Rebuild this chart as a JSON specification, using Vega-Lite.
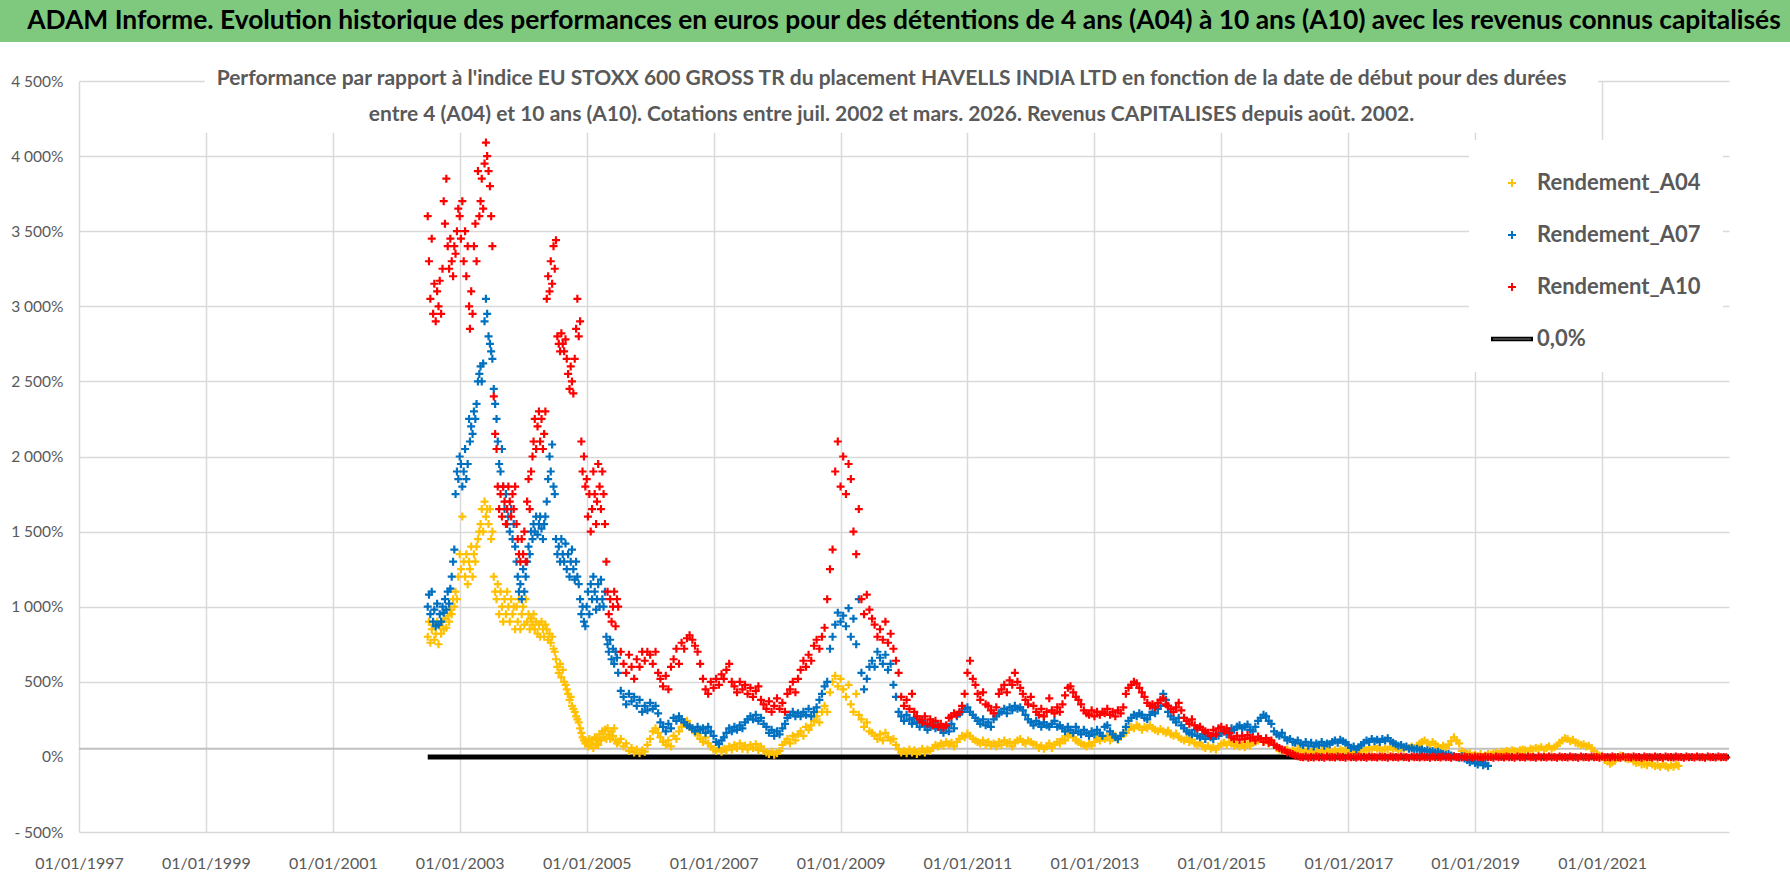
{
"$schema": "https://vega.github.io/schema/vega-lite/v6.json",
"background": "white",
"padding": 0,
"columns": 1,
"spacing": 26,
"config": {"view": {"stroke": null}, "font": "Lato"},
"datasets": {"pts": [
{"d":"2002-07-01","A04":800,"A07":1000,"A10":3600},
{"d":"2002-07-08","A04":900,"A07":1080,"A10":3300},
{"d":"2002-07-16","A04":760,"A07":950,"A10":3050},
{"d":"2002-07-24","A04":850,"A07":1100,"A10":3450},
{"d":"2002-08-01","A04":880,"A07":900,"A10":2950},
{"d":"2002-08-08","A04":780,"A07":980,"A10":3150},
{"d":"2002-08-16","A04":820,"A07":870,"A10":2900},
{"d":"2002-08-24","A04":900,"A07":1020,"A10":3100},
{"d":"2002-09-01","A04":750,"A07":880,"A10":3000},
{"d":"2002-09-08","A04":870,"A07":950,"A10":3170},
{"d":"2002-09-16","A04":820,"A07":900,"A10":2950},
{"d":"2002-09-24","A04":900,"A07":1000,"A10":3250},
{"d":"2002-10-01","A04":850,"A07":960,"A10":3700},
{"d":"2002-10-08","A04":920,"A07":1050,"A10":3550},
{"d":"2002-10-16","A04":860,"A07":980,"A10":3850},
{"d":"2002-10-24","A04":940,"A07":1100,"A10":3400},
{"d":"2002-11-01","A04":900,"A07":1020,"A10":3250},
{"d":"2002-11-08","A04":980,"A07":1120,"A10":3450},
{"d":"2002-11-16","A04":950,"A07":1200,"A10":3300},
{"d":"2002-11-24","A04":1050,"A07":1300,"A10":3200},
{"d":"2002-12-01","A04":1000,"A07":1380,"A10":3400},
{"d":"2002-12-08","A04":1100,"A07":1750,"A10":3350},
{"d":"2002-12-16","A04":1050,"A07":1900,"A10":3500},
{"d":"2002-12-24","A04":1200,"A07":1850,"A10":3650},
{"d":"2003-01-01","A04":1350,"A07":2000,"A10":3600},
{"d":"2003-01-08","A04":1250,"A07":1950,"A10":3450},
{"d":"2003-01-16","A04":1600,"A07":1800,"A10":3700},
{"d":"2003-01-24","A04":1300,"A07":1900,"A10":3300},
{"d":"2003-02-01","A04":1200,"A07":2050,"A10":3500},
{"d":"2003-02-08","A04":1350,"A07":1850,"A10":3200},
{"d":"2003-02-16","A04":1150,"A07":1950,"A10":3400},
{"d":"2003-02-24","A04":1300,"A07":2250,"A10":3000},
{"d":"2003-03-01","A04":1250,"A07":2100,"A10":2850},
{"d":"2003-03-08","A04":1400,"A07":2200,"A10":3100},
{"d":"2003-03-16","A04":1200,"A07":2150,"A10":2950},
{"d":"2003-03-24","A04":1350,"A07":2300,"A10":3400},
{"d":"2003-04-01","A04":1300,"A07":2250,"A10":3550},
{"d":"2003-04-08","A04":1400,"A07":2350,"A10":3300},
{"d":"2003-04-16","A04":1450,"A07":2500,"A10":3900},
{"d":"2003-04-24","A04":1500,"A07":2550,"A10":3600},
{"d":"2003-05-01","A04":1550,"A07":2600,"A10":3700},
{"d":"2003-05-08","A04":1650,"A07":2500,"A10":3850},
{"d":"2003-05-16","A04":1500,"A07":2620,"A10":3650},
{"d":"2003-05-24","A04":1700,"A07":2900,"A10":3950},
{"d":"2003-06-01","A04":1600,"A07":3050,"A10":4090},
{"d":"2003-06-08","A04":1650,"A07":2950,"A10":4000},
{"d":"2003-06-16","A04":1550,"A07":2800,"A10":3900},
{"d":"2003-06-24","A04":1650,"A07":2750,"A10":3800},
{"d":"2003-07-01","A04":1450,"A07":2700,"A10":3600},
{"d":"2003-07-08","A04":1500,"A07":2650,"A10":3400},
{"d":"2003-07-16","A04":1200,"A07":2450,"A10":2400},
{"d":"2003-07-24","A04":1100,"A07":2350,"A10":2150},
{"d":"2003-08-01","A04":1050,"A07":2250,"A10":2050},
{"d":"2003-08-08","A04":1150,"A07":2100,"A10":1800},
{"d":"2003-08-16","A04":950,"A07":1950,"A10":1650},
{"d":"2003-08-24","A04":1100,"A07":1900,"A10":1750},
{"d":"2003-09-01","A04":1000,"A07":2050,"A10":1600},
{"d":"2003-09-08","A04":900,"A07":1800,"A10":1800},
{"d":"2003-09-16","A04":1050,"A07":1650,"A10":1700},
{"d":"2003-09-24","A04":950,"A07":1750,"A10":1550},
{"d":"2003-10-01","A04":1100,"A07":1550,"A10":1650},
{"d":"2003-10-08","A04":1000,"A07":1600,"A10":1800},
{"d":"2003-10-16","A04":900,"A07":1500,"A10":1700},
{"d":"2003-10-24","A04":1050,"A07":1650,"A10":1600},
{"d":"2003-11-01","A04":950,"A07":1450,"A10":1750},
{"d":"2003-11-08","A04":1000,"A07":1550,"A10":1650},
{"d":"2003-11-16","A04":850,"A07":1400,"A10":1800},
{"d":"2003-11-24","A04":1000,"A07":1300,"A10":1550},
{"d":"2003-12-01","A04":900,"A07":1200,"A10":1450},
{"d":"2003-12-08","A04":1050,"A07":1100,"A10":1350},
{"d":"2003-12-16","A04":850,"A07":1150,"A10":1300},
{"d":"2003-12-24","A04":950,"A07":1050,"A10":1450},
{"d":"2004-01-01","A04":1000,"A07":1250,"A10":1350},
{"d":"2004-01-08","A04":880,"A07":1100,"A10":1500},
{"d":"2004-01-16","A04":1050,"A07":1200,"A10":1300},
{"d":"2004-01-24","A04":900,"A07":1300,"A10":1700},
{"d":"2004-02-01","A04":950,"A07":1400,"A10":1850},
{"d":"2004-02-08","A04":850,"A07":1350,"A10":1650},
{"d":"2004-02-16","A04":920,"A07":1500,"A10":1900},
{"d":"2004-02-24","A04":880,"A07":1450,"A10":2000},
{"d":"2004-03-01","A04":950,"A07":1550,"A10":2100},
{"d":"2004-03-08","A04":850,"A07":1500,"A10":2250},
{"d":"2004-03-16","A04":900,"A07":1600,"A10":2050},
{"d":"2004-03-24","A04":820,"A07":1480,"A10":2200},
{"d":"2004-04-01","A04":880,"A07":1550,"A10":2300},
{"d":"2004-04-08","A04":800,"A07":1600,"A10":2100},
{"d":"2004-04-16","A04":900,"A07":1520,"A10":2250},
{"d":"2004-04-24","A04":850,"A07":1450,"A10":2050},
{"d":"2004-05-01","A04":800,"A07":1550,"A10":2150},
{"d":"2004-05-08","A04":880,"A07":1600,"A10":2300},
{"d":"2004-05-16","A04":850,"A07":1700,"A10":3050},
{"d":"2004-05-24","A04":780,"A07":1850,"A10":3200},
{"d":"2004-06-01","A04":820,"A07":2000,"A10":3100},
{"d":"2004-06-08","A04":760,"A07":1900,"A10":3300},
{"d":"2004-06-16","A04":800,"A07":2080,"A10":3150},
{"d":"2004-06-24","A04":720,"A07":1800,"A10":3400},
{"d":"2004-07-01","A04":700,"A07":1750,"A10":3250},
{"d":"2004-07-08","A04":650,"A07":1450,"A10":3440},
{"d":"2004-07-16","A04":600,"A07":1350,"A10":2800},
{"d":"2004-07-24","A04":560,"A07":1400,"A10":2750},
{"d":"2004-08-01","A04":620,"A07":1300,"A10":2700},
{"d":"2004-08-08","A04":530,"A07":1450,"A10":2820},
{"d":"2004-08-16","A04":580,"A07":1350,"A10":2750},
{"d":"2004-08-24","A04":500,"A07":1300,"A10":2700},
{"d":"2004-09-01","A04":480,"A07":1420,"A10":2780},
{"d":"2004-09-08","A04":450,"A07":1250,"A10":2650},
{"d":"2004-09-16","A04":420,"A07":1350,"A10":2550},
{"d":"2004-09-24","A04":380,"A07":1200,"A10":2450},
{"d":"2004-10-01","A04":400,"A07":1300,"A10":2600},
{"d":"2004-10-08","A04":340,"A07":1380,"A10":2500},
{"d":"2004-10-16","A04":320,"A07":1250,"A10":2420},
{"d":"2004-10-24","A04":300,"A07":1180,"A10":2650},
{"d":"2004-11-01","A04":270,"A07":1300,"A10":2850},
{"d":"2004-11-08","A04":250,"A07":1200,"A10":3050},
{"d":"2004-11-16","A04":230,"A07":1150,"A10":2800},
{"d":"2004-11-24","A04":190,"A07":1050,"A10":2900},
{"d":"2004-12-01","A04":160,"A07":950,"A10":2100},
{"d":"2004-12-08","A04":130,"A07":1000,"A10":1900},
{"d":"2004-12-16","A04":110,"A07":900,"A10":2000},
{"d":"2004-12-24","A04":90,"A07":870,"A10":1800},
{"d":"2005-01-01","A04":100,"A07":1000,"A10":1850},
{"d":"2005-01-08","A04":70,"A07":1100,"A10":1600},
{"d":"2005-01-16","A04":120,"A07":950,"A10":1750},
{"d":"2005-01-24","A04":80,"A07":1150,"A10":1500},
{"d":"2005-02-01","A04":110,"A07":1050,"A10":1650},
{"d":"2005-02-08","A04":60,"A07":1200,"A10":1900},
{"d":"2005-02-16","A04":130,"A07":1100,"A10":1750},
{"d":"2005-02-24","A04":90,"A07":980,"A10":1550},
{"d":"2005-03-01","A04":120,"A07":1050,"A10":1700},
{"d":"2005-03-08","A04":80,"A07":1150,"A10":1950},
{"d":"2005-03-16","A04":150,"A07":1000,"A10":1800},
{"d":"2005-03-24","A04":110,"A07":1180,"A10":1650},
{"d":"2005-04-01","A04":170,"A07":1050,"A10":1900},
{"d":"2005-04-08","A04":130,"A07":1000,"A10":1750},
{"d":"2005-04-16","A04":180,"A07":1100,"A10":1550},
{"d":"2005-04-24","A04":120,"A07":800,"A10":1300},
{"d":"2005-05-01","A04":190,"A07":750,"A10":1100},
{"d":"2005-05-08","A04":150,"A07":700,"A10":950},
{"d":"2005-05-16","A04":120,"A07":780,"A10":1050},
{"d":"2005-05-24","A04":170,"A07":650,"A10":900},
{"d":"2005-06-01","A04":140,"A07":720,"A10":1000},
{"d":"2005-06-08","A04":190,"A07":620,"A10":1100},
{"d":"2005-06-16","A04":110,"A07":700,"A10":870},
{"d":"2005-06-24","A04":90,"A07":660,"A10":1050},
{"d":"2005-07-01","A04":100,"A07":560,"A10":1000},
{"d":"2005-07-16","A04":120,"A07":440,"A10":700},
{"d":"2005-08-01","A04":70,"A07":400,"A10":620},
{"d":"2005-08-16","A04":90,"A07":350,"A10":560},
{"d":"2005-09-01","A04":40,"A07":420,"A10":680},
{"d":"2005-09-16","A04":60,"A07":370,"A10":600},
{"d":"2005-10-01","A04":30,"A07":400,"A10":520},
{"d":"2005-10-16","A04":50,"A07":340,"A10":650},
{"d":"2005-11-01","A04":25,"A07":380,"A10":600},
{"d":"2005-11-16","A04":45,"A07":300,"A10":700},
{"d":"2005-12-01","A04":35,"A07":340,"A10":640},
{"d":"2005-12-16","A04":80,"A07":310,"A10":700},
{"d":"2006-01-01","A04":120,"A07":360,"A10":680},
{"d":"2006-01-16","A04":170,"A07":320,"A10":620},
{"d":"2006-02-01","A04":190,"A07":340,"A10":700},
{"d":"2006-02-16","A04":160,"A07":290,"A10":560},
{"d":"2006-03-01","A04":130,"A07":230,"A10":520},
{"d":"2006-03-16","A04":100,"A07":200,"A10":470},
{"d":"2006-04-01","A04":80,"A07":170,"A10":540},
{"d":"2006-04-16","A04":110,"A07":220,"A10":450},
{"d":"2006-05-01","A04":70,"A07":190,"A10":600},
{"d":"2006-05-16","A04":140,"A07":260,"A10":650},
{"d":"2006-06-01","A04":120,"A07":240,"A10":720},
{"d":"2006-06-16","A04":170,"A07":270,"A10":620},
{"d":"2006-07-01","A04":200,"A07":250,"A10":760},
{"d":"2006-07-16","A04":220,"A07":230,"A10":720},
{"d":"2006-08-01","A04":240,"A07":210,"A10":790},
{"d":"2006-08-16","A04":210,"A07":200,"A10":810},
{"d":"2006-09-01","A04":180,"A07":190,"A10":780},
{"d":"2006-09-16","A04":160,"A07":170,"A10":740},
{"d":"2006-10-01","A04":150,"A07":200,"A10":700},
{"d":"2006-10-16","A04":120,"A07":180,"A10":620},
{"d":"2006-11-01","A04":100,"A07":190,"A10":520},
{"d":"2006-11-16","A04":130,"A07":160,"A10":450},
{"d":"2006-12-01","A04":90,"A07":200,"A10":420},
{"d":"2006-12-16","A04":70,"A07":170,"A10":500},
{"d":"2007-01-01","A04":50,"A07":140,"A10":460},
{"d":"2007-01-16","A04":40,"A07":100,"A10":520},
{"d":"2007-02-01","A04":60,"A07":85,"A10":480},
{"d":"2007-02-16","A04":35,"A07":110,"A10":550},
{"d":"2007-03-01","A04":55,"A07":130,"A10":520},
{"d":"2007-03-16","A04":45,"A07":160,"A10":580},
{"d":"2007-04-01","A04":70,"A07":190,"A10":620},
{"d":"2007-04-16","A04":50,"A07":170,"A10":500},
{"d":"2007-05-01","A04":80,"A07":200,"A10":470},
{"d":"2007-05-16","A04":60,"A07":180,"A10":430},
{"d":"2007-06-01","A04":90,"A07":210,"A10":500},
{"d":"2007-06-16","A04":55,"A07":190,"A10":450},
{"d":"2007-07-01","A04":75,"A07":230,"A10":480},
{"d":"2007-07-16","A04":50,"A07":250,"A10":420},
{"d":"2007-08-01","A04":80,"A07":270,"A10":460},
{"d":"2007-08-16","A04":60,"A07":250,"A10":400},
{"d":"2007-09-01","A04":85,"A07":280,"A10":440},
{"d":"2007-09-16","A04":45,"A07":240,"A10":470},
{"d":"2007-10-01","A04":70,"A07":260,"A10":380},
{"d":"2007-10-16","A04":40,"A07":220,"A10":350},
{"d":"2007-11-01","A04":30,"A07":200,"A10":320},
{"d":"2007-11-16","A04":20,"A07":160,"A10":370},
{"d":"2007-12-01","A04":35,"A07":180,"A10":300},
{"d":"2007-12-16","A04":15,"A07":140,"A10":340},
{"d":"2008-01-01","A04":25,"A07":170,"A10":390},
{"d":"2008-01-16","A04":40,"A07":150,"A10":320},
{"d":"2008-02-01","A04":80,"A07":190,"A10":360},
{"d":"2008-02-16","A04":100,"A07":220,"A10":300},
{"d":"2008-03-01","A04":120,"A07":260,"A10":420},
{"d":"2008-03-16","A04":90,"A07":280,"A10":450},
{"d":"2008-04-01","A04":140,"A07":300,"A10":500},
{"d":"2008-04-16","A04":110,"A07":270,"A10":430},
{"d":"2008-05-01","A04":150,"A07":290,"A10":520},
{"d":"2008-05-16","A04":170,"A07":270,"A10":580},
{"d":"2008-06-01","A04":140,"A07":300,"A10":640},
{"d":"2008-06-16","A04":200,"A07":280,"A10":600},
{"d":"2008-07-01","A04":180,"A07":320,"A10":680},
{"d":"2008-07-16","A04":210,"A07":270,"A10":640},
{"d":"2008-08-01","A04":240,"A07":300,"A10":740},
{"d":"2008-08-16","A04":270,"A07":330,"A10":780},
{"d":"2008-09-01","A04":230,"A07":380,"A10":720},
{"d":"2008-09-16","A04":300,"A07":420,"A10":800},
{"d":"2008-10-01","A04":340,"A07":470,"A10":860},
{"d":"2008-10-16","A04":300,"A07":500,"A10":1050},
{"d":"2008-11-01","A04":430,"A07":720,"A10":1250},
{"d":"2008-11-16","A04":500,"A07":800,"A10":1380},
{"d":"2008-12-01","A04":540,"A07":880,"A10":1900},
{"d":"2008-12-16","A04":470,"A07":960,"A10":2100},
{"d":"2009-01-01","A04":520,"A07":900,"A10":1800},
{"d":"2009-01-16","A04":450,"A07":940,"A10":2000},
{"d":"2009-02-01","A04":400,"A07":870,"A10":1750},
{"d":"2009-02-16","A04":480,"A07":990,"A10":1950},
{"d":"2009-03-01","A04":350,"A07":800,"A10":1850},
{"d":"2009-03-16","A04":300,"A07":920,"A10":1500},
{"d":"2009-04-01","A04":420,"A07":750,"A10":1350},
{"d":"2009-04-16","A04":280,"A07":1050,"A10":1650},
{"d":"2009-05-01","A04":250,"A07":560,"A10":1050},
{"d":"2009-05-16","A04":200,"A07":450,"A10":950},
{"d":"2009-06-01","A04":230,"A07":520,"A10":1080},
{"d":"2009-06-16","A04":170,"A07":600,"A10":980},
{"d":"2009-07-01","A04":160,"A07":640,"A10":920},
{"d":"2009-07-16","A04":140,"A07":600,"A10":880},
{"d":"2009-08-01","A04":120,"A07":700,"A10":800},
{"d":"2009-08-16","A04":150,"A07":660,"A10":850},
{"d":"2009-09-01","A04":110,"A07":620,"A10":780},
{"d":"2009-09-16","A04":160,"A07":680,"A10":900},
{"d":"2009-10-01","A04":130,"A07":580,"A10":760},
{"d":"2009-10-16","A04":110,"A07":620,"A10":820},
{"d":"2009-11-01","A04":120,"A07":480,"A10":720},
{"d":"2009-11-16","A04":80,"A07":400,"A10":640},
{"d":"2009-12-01","A04":50,"A07":300,"A10":560},
{"d":"2009-12-16","A04":30,"A07":270,"A10":400},
{"d":"2010-01-01","A04":40,"A07":240,"A10":340},
{"d":"2010-01-16","A04":25,"A07":280,"A10":380},
{"d":"2010-02-01","A04":50,"A07":250,"A10":320},
{"d":"2010-02-16","A04":30,"A07":220,"A10":420},
{"d":"2010-03-01","A04":45,"A07":260,"A10":300},
{"d":"2010-03-16","A04":20,"A07":230,"A10":270},
{"d":"2010-04-01","A04":35,"A07":200,"A10":250},
{"d":"2010-04-16","A04":55,"A07":240,"A10":230},
{"d":"2010-05-01","A04":30,"A07":210,"A10":270},
{"d":"2010-05-16","A04":50,"A07":180,"A10":220},
{"d":"2010-06-01","A04":40,"A07":200,"A10":250},
{"d":"2010-06-16","A04":60,"A07":230,"A10":210},
{"d":"2010-07-01","A04":80,"A07":190,"A10":240},
{"d":"2010-07-16","A04":70,"A07":210,"A10":200},
{"d":"2010-08-01","A04":90,"A07":180,"A10":220},
{"d":"2010-08-16","A04":75,"A07":160,"A10":195},
{"d":"2010-09-01","A04":100,"A07":200,"A10":210},
{"d":"2010-09-16","A04":85,"A07":170,"A10":260},
{"d":"2010-10-01","A04":95,"A07":220,"A10":270},
{"d":"2010-10-16","A04":70,"A07":190,"A10":290},
{"d":"2010-11-01","A04":100,"A07":270,"A10":280},
{"d":"2010-11-16","A04":120,"A07":290,"A10":300},
{"d":"2010-12-01","A04":140,"A07":300,"A10":340},
{"d":"2010-12-16","A04":130,"A07":320,"A10":420},
{"d":"2011-01-01","A04":155,"A07":330,"A10":560},
{"d":"2011-01-16","A04":140,"A07":300,"A10":640},
{"d":"2011-02-01","A04":120,"A07":280,"A10":520},
{"d":"2011-02-16","A04":110,"A07":260,"A10":480},
{"d":"2011-03-01","A04":100,"A07":240,"A10":420},
{"d":"2011-03-16","A04":90,"A07":220,"A10":380},
{"d":"2011-04-01","A04":110,"A07":250,"A10":430},
{"d":"2011-04-16","A04":80,"A07":210,"A10":350},
{"d":"2011-05-01","A04":100,"A07":230,"A10":340},
{"d":"2011-05-16","A04":75,"A07":200,"A10":310},
{"d":"2011-06-01","A04":90,"A07":250,"A10":290},
{"d":"2011-06-16","A04":70,"A07":270,"A10":330},
{"d":"2011-07-01","A04":100,"A07":290,"A10":420},
{"d":"2011-07-16","A04":80,"A07":300,"A10":450},
{"d":"2011-08-01","A04":110,"A07":320,"A10":480},
{"d":"2011-08-16","A04":90,"A07":290,"A10":430},
{"d":"2011-09-01","A04":100,"A07":330,"A10":510},
{"d":"2011-09-16","A04":70,"A07":310,"A10":480},
{"d":"2011-10-01","A04":95,"A07":340,"A10":560},
{"d":"2011-10-16","A04":110,"A07":320,"A10":500},
{"d":"2011-11-01","A04":120,"A07":330,"A10":460},
{"d":"2011-11-16","A04":100,"A07":310,"A10":420},
{"d":"2011-12-01","A04":90,"A07":280,"A10":380},
{"d":"2011-12-16","A04":110,"A07":250,"A10":350},
{"d":"2012-01-01","A04":100,"A07":230,"A10":400},
{"d":"2012-01-16","A04":85,"A07":210,"A10":340},
{"d":"2012-02-01","A04":80,"A07":240,"A10":300},
{"d":"2012-02-16","A04":60,"A07":220,"A10":280},
{"d":"2012-03-01","A04":75,"A07":200,"A10":320},
{"d":"2012-03-16","A04":55,"A07":230,"A10":270},
{"d":"2012-04-01","A04":70,"A07":210,"A10":300},
{"d":"2012-04-16","A04":90,"A07":200,"A10":390},
{"d":"2012-05-01","A04":60,"A07":220,"A10":310},
{"d":"2012-05-16","A04":80,"A07":240,"A10":290},
{"d":"2012-06-01","A04":100,"A07":200,"A10":330},
{"d":"2012-06-16","A04":90,"A07":210,"A10":300},
{"d":"2012-07-01","A04":120,"A07":190,"A10":350},
{"d":"2012-07-16","A04":110,"A07":170,"A10":410},
{"d":"2012-08-01","A04":140,"A07":200,"A10":460},
{"d":"2012-08-16","A04":150,"A07":180,"A10":470},
{"d":"2012-09-01","A04":130,"A07":160,"A10":430},
{"d":"2012-09-16","A04":110,"A07":200,"A10":400},
{"d":"2012-10-01","A04":100,"A07":170,"A10":380},
{"d":"2012-10-16","A04":90,"A07":150,"A10":350},
{"d":"2012-11-01","A04":80,"A07":180,"A10":310},
{"d":"2012-11-16","A04":70,"A07":160,"A10":290},
{"d":"2012-12-01","A04":90,"A07":140,"A10":280},
{"d":"2012-12-16","A04":75,"A07":170,"A10":310},
{"d":"2013-01-01","A04":100,"A07":150,"A10":270},
{"d":"2013-01-16","A04":120,"A07":180,"A10":300},
{"d":"2013-02-01","A04":110,"A07":160,"A10":280},
{"d":"2013-02-16","A04":130,"A07":140,"A10":300},
{"d":"2013-03-01","A04":120,"A07":200,"A10":290},
{"d":"2013-03-16","A04":140,"A07":210,"A10":320},
{"d":"2013-04-01","A04":110,"A07":170,"A10":280},
{"d":"2013-04-16","A04":125,"A07":150,"A10":300},
{"d":"2013-05-01","A04":140,"A07":130,"A10":270},
{"d":"2013-05-16","A04":115,"A07":120,"A10":310},
{"d":"2013-06-01","A04":135,"A07":140,"A10":290},
{"d":"2013-06-16","A04":150,"A07":160,"A10":330},
{"d":"2013-07-01","A04":160,"A07":200,"A10":420},
{"d":"2013-07-16","A04":180,"A07":240,"A10":460},
{"d":"2013-08-01","A04":200,"A07":260,"A10":480},
{"d":"2013-08-16","A04":190,"A07":280,"A10":500},
{"d":"2013-09-01","A04":210,"A07":270,"A10":490},
{"d":"2013-09-16","A04":200,"A07":290,"A10":460},
{"d":"2013-10-01","A04":180,"A07":280,"A10":430},
{"d":"2013-10-16","A04":200,"A07":260,"A10":400},
{"d":"2013-11-01","A04":190,"A07":250,"A10":360},
{"d":"2013-11-16","A04":210,"A07":280,"A10":340},
{"d":"2013-12-01","A04":190,"A07":300,"A10":350},
{"d":"2013-12-16","A04":180,"A07":290,"A10":330},
{"d":"2014-01-01","A04":170,"A07":320,"A10":360},
{"d":"2014-01-16","A04":185,"A07":340,"A10":380},
{"d":"2014-02-01","A04":170,"A07":420,"A10":390},
{"d":"2014-02-16","A04":160,"A07":380,"A10":350},
{"d":"2014-03-01","A04":175,"A07":300,"A10":340},
{"d":"2014-03-16","A04":150,"A07":270,"A10":320},
{"d":"2014-04-01","A04":140,"A07":250,"A10":300},
{"d":"2014-04-16","A04":155,"A07":230,"A10":330},
{"d":"2014-05-01","A04":130,"A07":260,"A10":360},
{"d":"2014-05-16","A04":120,"A07":210,"A10":310},
{"d":"2014-06-01","A04":110,"A07":190,"A10":260},
{"d":"2014-06-16","A04":125,"A07":170,"A10":240},
{"d":"2014-07-01","A04":100,"A07":160,"A10":220},
{"d":"2014-07-16","A04":115,"A07":150,"A10":250},
{"d":"2014-08-01","A04":90,"A07":180,"A10":210},
{"d":"2014-08-16","A04":80,"A07":140,"A10":190},
{"d":"2014-09-01","A04":95,"A07":130,"A10":200},
{"d":"2014-09-16","A04":70,"A07":150,"A10":180},
{"d":"2014-10-01","A04":60,"A07":120,"A10":170},
{"d":"2014-10-16","A04":75,"A07":140,"A10":160},
{"d":"2014-11-01","A04":55,"A07":130,"A10":140},
{"d":"2014-11-16","A04":65,"A07":120,"A10":180},
{"d":"2014-12-01","A04":50,"A07":150,"A10":150},
{"d":"2014-12-16","A04":70,"A07":140,"A10":190},
{"d":"2015-01-01","A04":85,"A07":160,"A10":200},
{"d":"2015-01-16","A04":95,"A07":175,"A10":170},
{"d":"2015-02-01","A04":80,"A07":150,"A10":190},
{"d":"2015-02-16","A04":100,"A07":165,"A10":160},
{"d":"2015-03-01","A04":90,"A07":190,"A10":130},
{"d":"2015-03-16","A04":75,"A07":180,"A10":120},
{"d":"2015-04-01","A04":85,"A07":200,"A10":140},
{"d":"2015-04-16","A04":70,"A07":210,"A10":115},
{"d":"2015-05-01","A04":80,"A07":190,"A10":140},
{"d":"2015-05-16","A04":65,"A07":200,"A10":120},
{"d":"2015-06-01","A04":90,"A07":215,"A10":145},
{"d":"2015-06-16","A04":75,"A07":180,"A10":125},
{"d":"2015-07-01","A04":95,"A07":170,"A10":130},
{"d":"2015-07-16","A04":100,"A07":200,"A10":110},
{"d":"2015-08-01","A04":110,"A07":240,"A10":135},
{"d":"2015-08-16","A04":120,"A07":260,"A10":120},
{"d":"2015-09-01","A04":105,"A07":280,"A10":100},
{"d":"2015-09-16","A04":115,"A07":270,"A10":125},
{"d":"2015-10-01","A04":90,"A07":240,"A10":95},
{"d":"2015-10-16","A04":100,"A07":220,"A10":110},
{"d":"2015-11-01","A04":80,"A07":170,"A10":80},
{"d":"2015-11-16","A04":60,"A07":150,"A10":70},
{"d":"2015-12-01","A04":50,"A07":140,"A10":60},
{"d":"2015-12-16","A04":45,"A07":160,"A10":50},
{"d":"2016-01-01","A04":40,"A07":130,"A10":45},
{"d":"2016-01-16","A04":50,"A07":110,"A10":30},
{"d":"2016-02-01","A04":35,"A07":120,"A10":25},
{"d":"2016-02-16","A04":45,"A07":100,"A10":20},
{"d":"2016-03-01","A04":30,"A07":95,"A10":10},
{"d":"2016-03-16","A04":55,"A07":110,"A10":5},
{"d":"2016-04-01","A04":40,"A07":90,"A10":0},
{"d":"2016-04-16","A04":50,"A07":80,"A10":-3},
{"d":"2016-05-01","A04":35,"A07":100,"A10":2},
{"d":"2016-05-16","A04":45,"A07":75,"A10":-5},
{"d":"2016-06-01","A04":30,"A07":95,"A10":0},
{"d":"2016-06-16","A04":50,"A07":70,"A10":-4},
{"d":"2016-07-01","A04":40,"A07":90,"A10":3},
{"d":"2016-07-16","A04":30,"A07":80,"A10":-2},
{"d":"2016-08-01","A04":45,"A07":100,"A10":0},
{"d":"2016-08-16","A04":35,"A07":75,"A10":-5},
{"d":"2016-09-01","A04":50,"A07":90,"A10":2},
{"d":"2016-09-16","A04":40,"A07":85,"A10":-3},
{"d":"2016-10-01","A04":30,"A07":100,"A10":0},
{"d":"2016-10-16","A04":45,"A07":110,"A10":-4},
{"d":"2016-11-01","A04":35,"A07":95,"A10":2},
{"d":"2016-11-16","A04":50,"A07":115,"A10":-2},
{"d":"2016-12-01","A04":40,"A07":105,"A10":0},
{"d":"2016-12-16","A04":45,"A07":95,"A10":-5},
{"d":"2017-01-01","A04":30,"A07":80,"A10":3},
{"d":"2017-01-16","A04":25,"A07":60,"A10":-2},
{"d":"2017-02-01","A04":35,"A07":70,"A10":0},
{"d":"2017-02-16","A04":20,"A07":50,"A10":-4},
{"d":"2017-03-01","A04":30,"A07":65,"A10":2},
{"d":"2017-03-16","A04":40,"A07":80,"A10":-3},
{"d":"2017-04-01","A04":50,"A07":95,"A10":0},
{"d":"2017-04-16","A04":45,"A07":110,"A10":-5},
{"d":"2017-05-01","A04":60,"A07":100,"A10":2},
{"d":"2017-05-16","A04":50,"A07":120,"A10":-2},
{"d":"2017-06-01","A04":65,"A07":105,"A10":0},
{"d":"2017-06-16","A04":55,"A07":115,"A10":-4},
{"d":"2017-07-01","A04":60,"A07":100,"A10":3},
{"d":"2017-07-16","A04":45,"A07":120,"A10":-2},
{"d":"2017-08-01","A04":55,"A07":110,"A10":0},
{"d":"2017-08-16","A04":50,"A07":125,"A10":-5},
{"d":"2017-09-01","A04":65,"A07":105,"A10":2},
{"d":"2017-09-16","A04":55,"A07":95,"A10":-3},
{"d":"2017-10-01","A04":60,"A07":85,"A10":0},
{"d":"2017-10-16","A04":50,"A07":75,"A10":-4},
{"d":"2017-11-01","A04":60,"A07":80,"A10":2},
{"d":"2017-11-16","A04":55,"A07":65,"A10":-2},
{"d":"2017-12-01","A04":65,"A07":70,"A10":0},
{"d":"2017-12-16","A04":60,"A07":55,"A10":-5},
{"d":"2018-01-01","A04":70,"A07":60,"A10":3},
{"d":"2018-01-16","A04":60,"A07":50,"A10":-2},
{"d":"2018-02-01","A04":75,"A07":55,"A10":0},
{"d":"2018-02-16","A04":90,"A07":45,"A10":-4},
{"d":"2018-03-01","A04":100,"A07":50,"A10":2},
{"d":"2018-03-16","A04":110,"A07":40,"A10":-3},
{"d":"2018-04-01","A04":95,"A07":45,"A10":0},
{"d":"2018-04-16","A04":80,"A07":35,"A10":-5},
{"d":"2018-05-01","A04":100,"A07":40,"A10":2},
{"d":"2018-05-16","A04":85,"A07":30,"A10":-2},
{"d":"2018-06-01","A04":70,"A07":35,"A10":0},
{"d":"2018-06-16","A04":60,"A07":25,"A10":-4},
{"d":"2018-07-01","A04":75,"A07":20,"A10":3},
{"d":"2018-07-16","A04":65,"A07":15,"A10":-2},
{"d":"2018-08-01","A04":80,"A07":20,"A10":0},
{"d":"2018-08-16","A04":105,"A07":10,"A10":-5},
{"d":"2018-09-01","A04":130,"A07":5,"A10":2},
{"d":"2018-09-16","A04":110,"A07":0,"A10":-3},
{"d":"2018-10-01","A04":90,"A07":-5,"A10":0},
{"d":"2018-10-16","A04":40,"A07":5,"A10":-4},
{"d":"2018-11-01","A04":30,"A07":-10,"A10":2},
{"d":"2018-11-16","A04":20,"A07":-20,"A10":-2},
{"d":"2018-12-01","A04":25,"A07":-35,"A10":0},
{"d":"2018-12-16","A04":10,"A07":-25,"A10":-5},
{"d":"2019-01-01","A04":15,"A07":-40,"A10":3},
{"d":"2019-01-16","A04":5,"A07":-50,"A10":-2},
{"d":"2019-02-01","A04":20,"A07":-35,"A10":0},
{"d":"2019-02-16","A04":0,"A07":-55,"A10":-4},
{"d":"2019-03-01","A04":10,"A07":-45,"A10":2},
{"d":"2019-03-16","A04":20,"A07":-60,"A10":-3},
{"d":"2019-04-01","A04":15,"A07":null,"A10":0},
{"d":"2019-04-16","A04":25,"A07":null,"A10":-5},
{"d":"2019-05-01","A04":30,"A07":null,"A10":2},
{"d":"2019-05-16","A04":20,"A07":null,"A10":-2},
{"d":"2019-06-01","A04":35,"A07":null,"A10":0},
{"d":"2019-06-16","A04":30,"A07":null,"A10":-4},
{"d":"2019-07-01","A04":40,"A07":null,"A10":3},
{"d":"2019-07-16","A04":35,"A07":null,"A10":-2},
{"d":"2019-08-01","A04":45,"A07":null,"A10":0},
{"d":"2019-08-16","A04":40,"A07":null,"A10":-5},
{"d":"2019-09-01","A04":35,"A07":null,"A10":2},
{"d":"2019-09-16","A04":45,"A07":null,"A10":-3},
{"d":"2019-10-01","A04":50,"A07":null,"A10":0},
{"d":"2019-10-16","A04":45,"A07":null,"A10":-4},
{"d":"2019-11-01","A04":40,"A07":null,"A10":2},
{"d":"2019-11-16","A04":55,"A07":null,"A10":-2},
{"d":"2019-12-01","A04":50,"A07":null,"A10":0},
{"d":"2019-12-16","A04":60,"A07":null,"A10":-5},
{"d":"2020-01-01","A04":55,"A07":null,"A10":3},
{"d":"2020-01-16","A04":65,"A07":null,"A10":-2},
{"d":"2020-02-01","A04":50,"A07":null,"A10":0},
{"d":"2020-02-16","A04":60,"A07":null,"A10":-4},
{"d":"2020-03-01","A04":70,"A07":null,"A10":2},
{"d":"2020-03-16","A04":55,"A07":null,"A10":-3},
{"d":"2020-04-01","A04":65,"A07":null,"A10":0},
{"d":"2020-04-16","A04":75,"A07":null,"A10":-5},
{"d":"2020-05-01","A04":95,"A07":null,"A10":2},
{"d":"2020-05-16","A04":110,"A07":null,"A10":-2},
{"d":"2020-06-01","A04":125,"A07":null,"A10":0},
{"d":"2020-06-16","A04":120,"A07":null,"A10":-4},
{"d":"2020-07-01","A04":105,"A07":null,"A10":3},
{"d":"2020-07-16","A04":115,"A07":null,"A10":-2},
{"d":"2020-08-01","A04":95,"A07":null,"A10":0},
{"d":"2020-08-16","A04":90,"A07":null,"A10":-5},
{"d":"2020-09-01","A04":80,"A07":null,"A10":2},
{"d":"2020-09-16","A04":85,"A07":null,"A10":-3},
{"d":"2020-10-01","A04":70,"A07":null,"A10":0},
{"d":"2020-10-16","A04":75,"A07":null,"A10":-4},
{"d":"2020-11-01","A04":60,"A07":null,"A10":2},
{"d":"2020-11-16","A04":40,"A07":null,"A10":-2},
{"d":"2020-12-01","A04":20,"A07":null,"A10":0},
{"d":"2020-12-16","A04":10,"A07":null,"A10":-5},
{"d":"2021-01-01","A04":0,"A07":null,"A10":3},
{"d":"2021-01-16","A04":-20,"A07":null,"A10":-2},
{"d":"2021-02-01","A04":-30,"A07":null,"A10":0},
{"d":"2021-02-16","A04":-45,"A07":null,"A10":-4},
{"d":"2021-03-01","A04":-35,"A07":null,"A10":2},
{"d":"2021-03-16","A04":-25,"A07":null,"A10":-3},
{"d":"2021-04-01","A04":-5,"A07":null,"A10":0},
{"d":"2021-04-16","A04":10,"A07":null,"A10":-5},
{"d":"2021-05-01","A04":5,"A07":null,"A10":2},
{"d":"2021-05-16","A04":-10,"A07":null,"A10":-2},
{"d":"2021-06-01","A04":-15,"A07":null,"A10":0},
{"d":"2021-06-16","A04":-5,"A07":null,"A10":-4},
{"d":"2021-07-01","A04":-30,"A07":null,"A10":3},
{"d":"2021-07-16","A04":-40,"A07":null,"A10":-2},
{"d":"2021-08-01","A04":-35,"A07":null,"A10":0},
{"d":"2021-08-16","A04":-50,"A07":null,"A10":-5},
{"d":"2021-09-01","A04":-45,"A07":null,"A10":2},
{"d":"2021-09-16","A04":-55,"A07":null,"A10":-3},
{"d":"2021-10-01","A04":-40,"A07":null,"A10":0},
{"d":"2021-10-16","A04":-50,"A07":null,"A10":-4},
{"d":"2021-11-01","A04":-60,"A07":null,"A10":2},
{"d":"2021-11-16","A04":-55,"A07":null,"A10":-2},
{"d":"2021-12-01","A04":-65,"A07":null,"A10":0},
{"d":"2021-12-16","A04":-50,"A07":null,"A10":-5},
{"d":"2022-01-01","A04":-60,"A07":null,"A10":3},
{"d":"2022-01-16","A04":-70,"A07":null,"A10":-2},
{"d":"2022-02-01","A04":-55,"A07":null,"A10":0},
{"d":"2022-02-16","A04":-65,"A07":null,"A10":-4},
{"d":"2022-03-01","A04":-50,"A07":null,"A10":2},
{"d":"2022-03-16","A04":-60,"A07":null,"A10":-3},
{"d":"2022-04-01","A04":null,"A07":null,"A10":0},
{"d":"2022-04-16","A04":null,"A07":null,"A10":-5},
{"d":"2022-05-01","A04":null,"A07":null,"A10":2},
{"d":"2022-05-16","A04":null,"A07":null,"A10":-2},
{"d":"2022-06-01","A04":null,"A07":null,"A10":0},
{"d":"2022-06-16","A04":null,"A07":null,"A10":-4},
{"d":"2022-07-01","A04":null,"A07":null,"A10":3},
{"d":"2022-07-16","A04":null,"A07":null,"A10":-2},
{"d":"2022-08-01","A04":null,"A07":null,"A10":0},
{"d":"2022-08-16","A04":null,"A07":null,"A10":-5},
{"d":"2022-09-01","A04":null,"A07":null,"A10":2},
{"d":"2022-09-16","A04":null,"A07":null,"A10":-3},
{"d":"2022-10-01","A04":null,"A07":null,"A10":0},
{"d":"2022-10-16","A04":null,"A07":null,"A10":-4},
{"d":"2022-11-01","A04":null,"A07":null,"A10":2},
{"d":"2022-11-16","A04":null,"A07":null,"A10":-2},
{"d":"2022-12-01","A04":null,"A07":null,"A10":0},
{"d":"2022-12-16","A04":null,"A07":null,"A10":-3}
]},
"concat": [
{
  "width": 1790,
  "height": 42,
  "view": {"fill": "#7EC97E", "stroke": null},
  "data": {"values": [{"t": "ADAM Informe. Evolution historique des performances en euros pour des détentions de 4 ans (A04) à 10 ans (A10) avec les revenus connus capitalisés"}]},
  "mark": {"type": "text", "font": "Lato", "fontWeight": "bold", "fontSize": 26.4, "color": "#000000", "dx": 9, "baseline": "middle"},
  "encoding": {"text": {"field": "t", "type": "nominal"}}
},
{
  "width": 1729,
  "height": 751,
  "title": {
    "text": ["Performance par rapport à l'indice EU STOXX 600 GROSS TR  du placement HAVELLS INDIA LTD en fonction de la date de début pour des durées", "entre 4 (A04) et 10 ans (A10).  Cotations entre juil. 2002 et mars. 2026. Revenus CAPITALISES depuis août. 2002."],
    "anchor": "middle", "frame": "group", "dx": 27, "offset": -62, "baseline": "middle",
    "fontSize": 21, "font": "Lato", "fontWeight": "bold", "color": "#595959", "lineHeight": 36
  },
  "layer": [
    {
      "data": {"values": [{}]},
      "mark": {"type": "rect", "fill": "white", "stroke": null},
      "encoding": {
        "x": {"datum": {"year": 1998, "month": 12, "date": 26}, "type": "temporal"},
        "x2": {"datum": {"year": 2020, "month": 12, "date": 8}},
        "y": {"datum": 4530, "type": "quantitative"},
        "y2": {"datum": 4156}
      }
    },
    {
      "data": {"values": [{}]},
      "mark": {"type": "rule", "color": "#c0c0c0", "strokeWidth": 2},
      "encoding": {
        "x": {"datum": {"year": 1997, "month": 1, "date": 1}, "type": "temporal"},
        "x2": {"datum": {"year": 2023, "month": 1, "date": 1}},
        "y": {"datum": 55, "type": "quantitative"}
      }
    },
    {
      "data": {"values": [{"d": "2002-07-01", "v": 0}, {"d": "2023-01-01", "v": 0}]},
      "mark": {"type": "line", "color": "#000000", "strokeWidth": 5},
      "encoding": {
        "x": {"field": "d", "type": "temporal"},
        "y": {"field": "v", "type": "quantitative"}
      }
    },
    {
      "data": {"name": "pts"},
      "transform": [{"fold": ["A04", "A07", "A10"], "as": ["s", "v"]}],
      "mark": {"type": "point", "filled": false, "strokeWidth": 2.2, "size": 1600, "opacity": 1},
      "encoding": {
        "x": {
          "field": "d", "type": "temporal",
          "scale": {"domain": [{"year": 1997, "month": 1, "date": 1}, {"year": 2023, "month": 1, "date": 1}], "range": [79, 1729], "nice": false},
          "axis": {
            "title": null,
            "values": [{"year": 1997, "month": 1, "date": 1}, {"year": 1999, "month": 1, "date": 1}, {"year": 2001, "month": 1, "date": 1}, {"year": 2003, "month": 1, "date": 1}, {"year": 2005, "month": 1, "date": 1}, {"year": 2007, "month": 1, "date": 1}, {"year": 2009, "month": 1, "date": 1}, {"year": 2011, "month": 1, "date": 1}, {"year": 2013, "month": 1, "date": 1}, {"year": 2015, "month": 1, "date": 1}, {"year": 2017, "month": 1, "date": 1}, {"year": 2019, "month": 1, "date": 1}, {"year": 2021, "month": 1, "date": 1}],
            "format": "%d/%m/%Y",
            "labelFlush": false, "labelOverlap": false, "labelBound": false,
            "grid": true, "gridColor": "#d9d9d9", "gridWidth": 1.5,
            "domain": false, "ticks": false, "labelPadding": 23,
            "labelFont": "Lato", "labelFontSize": 16, "labelColor": "#595959"
          }
        },
        "y": {
          "field": "v", "type": "quantitative",
          "scale": {"domain": [-500, 4500], "nice": false, "zero": false},
          "axis": {
            "title": null, "offset": -79,
            "values": [-500, 0, 500, 1000, 1500, 2000, 2500, 3000, 3500, 4000, 4500],
            "labelExpr": "datum.value < 0 ? '- ' + format(-datum.value, ',d') + '%' : replace(format(datum.value, ',d'), ',', ' ') + '%'",
            "grid": true, "gridColor": {"condition": {"test": "datum.value === 0", "value": "transparent"}, "value": "#d9d9d9"}, "gridWidth": 1.5,
            "domain": false, "ticks": false, "labelPadding": 16,
            "labelFont": "Lato", "labelFontSize": 15.5, "labelColor": "#595959"
          }
        },
        "color": {
          "field": "s", "type": "nominal",
          "scale": {"domain": ["A04", "A07", "A10", "0,0%"], "range": ["#FFC000", "#0070C0", "#FF0000", "#000000"]},
          "legend": {
            "title": null, "orient": "none", "legendX": 1469, "legendY": 140,
            "fillColor": "white", "padding": 22, "strokeColor": null,
            "symbolSize": 1600, "symbolStrokeWidth": 2,
            "labelFont": "Lato", "labelFontWeight": "bold", "labelFontSize": 22, "labelColor": "#595959", "labelOffset": 4,
            "labelLimit": 400, "rowPadding": 20,
            "labelExpr": "datum.label === '0,0%' ? datum.label : 'Rendement_' + datum.label"
          }
        },
        "shape": {
          "field": "s", "type": "nominal",
          "scale": {"domain": ["A04", "A07", "A10", "0,0%"], "range": ["M-0.2,0H0.2M0,-0.2V0.2", "M-0.2,0H0.2M0,-0.2V0.2", "M-0.2,0H0.2M0,-0.2V0.2", "M-1,-0.06H1V0.06H-1Z"]},
          "legend": {
            "title": null, "orient": "none", "legendX": 1469, "legendY": 140,
            "fillColor": "white", "padding": 22, "strokeColor": null,
            "symbolSize": 1600, "symbolStrokeWidth": 2,
            "labelFont": "Lato", "labelFontWeight": "bold", "labelFontSize": 22, "labelColor": "#595959", "labelOffset": 4,
            "labelLimit": 400, "rowPadding": 20,
            "labelExpr": "datum.label === '0,0%' ? datum.label : 'Rendement_' + datum.label"
          }
        },
        "order": {"field": "s", "type": "ordinal"}
      }
    }
  ]
}
]
}
